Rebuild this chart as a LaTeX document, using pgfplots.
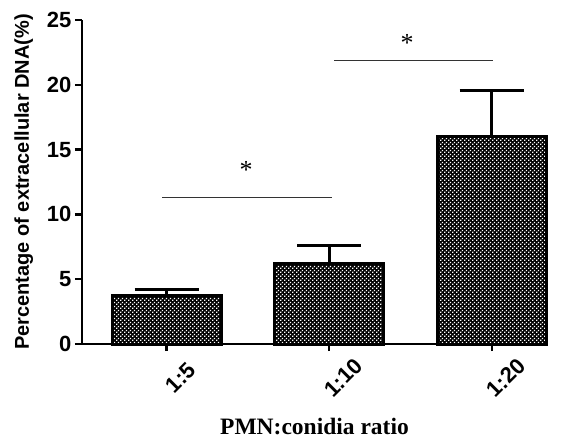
\documentclass[border=0pt]{standalone}
\usepackage{fontspec}
\setmainfont{Liberation Serif}
\setsansfont{Liberation Sans}
\usepackage{pgfplots}
\pgfplotsset{compat=1.18}
\usetikzlibrary{patterns}

% white dots over a black fill give the dark checker look of the bars
\pgfdeclarepatternformonly{checker}{\pgfpointorigin}{\pgfpoint{4pt}{4pt}}{\pgfpoint{4pt}{4pt}}{%
  \pgfpathrectangle{\pgfpoint{0.2pt}{0.2pt}}{\pgfpoint{1.6pt}{1.6pt}}%
  \pgfpathrectangle{\pgfpoint{2.2pt}{2.2pt}}{\pgfpoint{1.6pt}{1.6pt}}%
  \pgfusepath{fill}}

\begin{document}
\begin{tikzpicture}
\begin{axis}[
    scale only axis,
    width=465pt, height=324pt,
    xmin=-0.52, xmax=2.34,
    ymin=0, ymax=25,
    ytick={0,5,10,15,20,25},
    xtick={0,1,2},
    xticklabels={1:5,1:10,1:20},
    axis x line=bottom, axis y line=left,
    axis line style={-, line width=2.4pt},
    tick align=outside,
    major tick length=7pt,
    tick style={line width=2.4pt, black},
    /pgf/number format/assume math mode=true,
    yticklabel style={font=\sffamily\bfseries\fontsize{22}{22}\selectfont},
    xticklabel style={font=\sffamily\bfseries\fontsize{22}{22}\selectfont, rotate=45, anchor=center, xshift=-9pt, yshift=-29pt},
    ylabel={Percentage of extracellular DNA(\%)},
    ylabel style={font=\sffamily\bfseries\fontsize{20}{20}\selectfont, yshift=7pt},
    xlabel={PMN:conidia ratio},
    xlabel style={font=\rmfamily\bfseries\fontsize{23.5}{23.5}\selectfont, yshift=-11pt},
    clip=false,
]
\addplot[ybar, bar width=109pt, line width=3pt, draw=black, fill=black,
    postaction={pattern=checker, pattern color=white},
    error bars/.cd, y dir=plus, y explicit,
    error bar style={line width=3pt},
    error mark options={rotate=90, mark size=32pt, line width=3pt}]
    coordinates {(0,3.75) +- (0,0.45) (1,6.25) +- (0,1.35) (2,16.0) +- (0,3.55)};
\draw[line width=1.2pt, black!80] (axis cs:-0.025,11.3) -- (axis cs:1.02,11.3);
\draw[line width=1.2pt, black!80] (axis cs:1.03,21.9) -- (axis cs:2.01,21.9);
\node[font=\rmfamily\fontsize{26}{26}\selectfont] at (axis cs:0.49,13.4) {*};
\node[font=\rmfamily\fontsize{26}{26}\selectfont] at (axis cs:1.48,23.2) {*};
\coordinate (LL) at (rel axis cs:0,0);
\coordinate (UR) at (rel axis cs:1,1);
\end{axis}
\pgfresetboundingbox
\useasboundingbox ([shift={(-82pt,-97pt)}]LL) rectangle ([shift={(27pt,20pt)}]UR);
\end{tikzpicture}
\end{document}
